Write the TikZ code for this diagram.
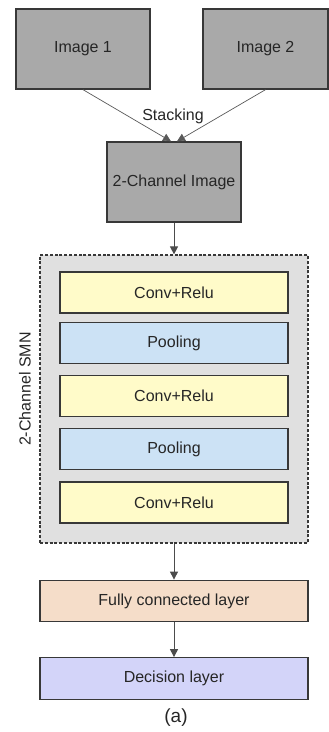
\documentclass[tikz,border=0pt]{standalone}
\usepackage{fontspec}
\setmainfont{Liberation Sans}
\usetikzlibrary{arrows.meta}
\definecolor{imggray}{HTML}{A9A9A9}
\definecolor{boxedge}{HTML}{383838}
\definecolor{panelgray}{HTML}{E0E0E0}
\definecolor{convyellow}{HTML}{FFFBC9}
\definecolor{poolblue}{HTML}{CCE2F5}
\definecolor{fcpeach}{HTML}{F5DDC9}
\definecolor{decviolet}{HTML}{D3D4F9}
\definecolor{txt}{HTML}{262626}
\tikzset{
  lbl/.style={font=\fontsize{16}{19}\selectfont, text=txt},
  block/.style={draw=boxedge, line width=1.3pt, inner sep=0pt, lbl},
  imgbox/.style={block, fill=imggray, minimum width=134pt, minimum height=80pt},
  layer/.style={block, minimum width=228pt, minimum height=41pt},
  wide/.style={block, minimum width=268pt, minimum height=41.5pt},
  thinarrow/.style={draw=black!65, line width=0.7pt, -{Triangle[width=8pt,length=8pt]}},
  flowarrow/.style={draw=black!70, line width=1pt, -{Triangle[width=8pt,length=8pt]}},
}
\begin{document}
\begin{tikzpicture}[x=1pt, y=-1pt]
\useasboundingbox (0,0) rectangle (329,732);

% inputs
\node[imgbox] (img1) at (83,49) {Image 1};
\node[imgbox, minimum width=125pt] (img2) at (265.5,49) {Image 2};
\node[imgbox] (stack) at (174,182) {2-Channel Image};
\node[lbl] (stacklbl) at (173,116) {Stacking};

\coordinate (inL) at ([xshift=-3pt]stack.north);
\coordinate (inR) at ([xshift=3pt]stack.north);
\draw[thinarrow] (img1.south) -- (inL);
\draw[thinarrow] (img2.south) -- (inR);

% network panel
\node[draw=boxedge, fill=panelgray, line width=1.2pt, dash pattern=on 3pt off 1.8pt,
      minimum width=268pt, minimum height=288pt, inner sep=0pt] (smn) at (174,399) {};
\node[lbl, rotate=90] (smnlbl) at (25,389) {2-Channel SMN};

\node[layer, fill=convyellow] (c1) at (174,292.5) {Conv+Relu};
\node[layer, fill=poolblue]   (p1) at (174,343) {Pooling};
\node[layer, fill=convyellow] (c2) at (174,396) {Conv+Relu};
\node[layer, fill=poolblue]   (p2) at (174,449) {Pooling};
\node[layer, fill=convyellow] (c3) at (174,502.5) {Conv+Relu};

\draw[flowarrow] (stack.south) -- (smn.north);

% output layers
\node[wide, fill=fcpeach] (fc) at (174,601) {Fully connected layer};
\node[wide, fill=decviolet] (dec) at (174,678.5) {Decision layer};

\draw[flowarrow] (smn.south) -- (fc.north);
\draw[flowarrow] (fc.south) -- (dec.north);

\node[lbl, font=\fontsize{19}{22}\selectfont] (cap) at (176,718) {(a)};
\end{tikzpicture}
\end{document}
